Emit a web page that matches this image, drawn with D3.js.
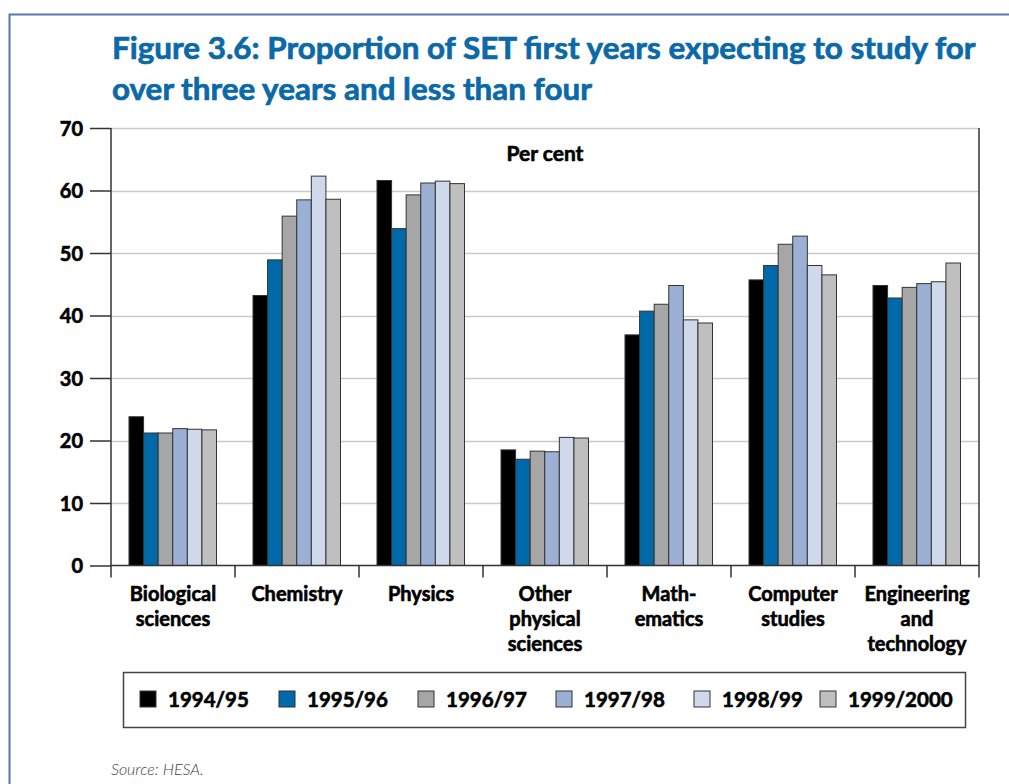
<!DOCTYPE html>
<meta charset="utf-8">
<style>
body, html {
  margin: 0;
  padding: 0;
  background: #fff;
}
text {
  font-family: Lato, "Open Sans", sans-serif;
  font-weight: bold;
  stroke: #000;
  stroke-width: 0.6px;
}
.title {
  fill: #0b69a7;
  stroke: #0b69a7;
  stroke-width: 0.7px;
  font-size: 34px;
}
.axis text {
  font-size: 20px;
  fill: #000;
}
.cat {
  font-size: 20px;
  text-anchor: middle;
}
.legend text {
  font-size: 20.5px;
}
.source {
  font-weight: 300;
  font-style: italic;
  font-size: 16px;
  fill: #444;
  stroke: none;
}
</style>
<div id="chart"></div>
<script src="https://d3js.org/d3.v7.min.js"></script>
<script>
// data
const categories = [
  ["Biological", "sciences"],
  ["Chemistry"],
  ["Physics"],
  ["Other", "physical", "sciences"],
  ["Math-", "ematics"],
  ["Computer", "studies"],
  ["Engineering", "and", "technology"]
]
const years = ["1994/95", "1995/96", "1996/97", "1997/98", "1998/99", "1999/2000"]
const v1994 = [23.8, 43.2, 61.6, 18.5, 36.9, 45.7, 44.8]
const v1995 = [21.2, 48.9, 53.9, 17.0, 40.7, 48.0, 42.8]
const v1996 = [21.2, 55.9, 59.3, 18.3, 41.8, 51.4, 44.5]
const v1997 = [21.9, 58.5, 61.2, 18.2, 44.8, 52.7, 45.1]
const v1998 = [21.8, 62.3, 61.5, 20.5, 39.3, 48.0, 45.4]
const v1999 = [21.7, 58.6, 61.1, 20.4, 38.8, 46.5, 48.4]
const yTicks = [0, 10, 20, 30, 40, 50, 60, 70]
const colours = ["#000000", "#0069aa", "#a6a6a6", "#9cb0d6", "#d0d9eb", "#bfbfbf"]

const series = [v1994, v1995, v1996, v1997, v1998, v1999]
const width = 1009, height = 784

let svg = d3.select("#chart").append("svg")
  .attr("width", width)
  .attr("height", height)

// outer frame
svg.append("path")
  .attr("d", "M9.5," + height + "V14.5H" + width)
  .attr("fill", "none")
  .attr("stroke", "#5579aa")
  .attr("stroke-width", 2)

let title = svg.append("text").attr("class", "title")
let line1 = title.append("tspan").attr("x", 112).attr("y", 59)
  .text("Figure 3.6: Proportion of SET first years expecting to study for")
title.append("tspan").attr("x", 112).attr("y", 100)
  .text("over three years and less than four")
// size the title so the first line spans the plot width
let w1 = line1.node().getComputedTextLength()
title.style("font-size", (34 * 864 / w1) + "px")

const plotL = 111, plotR = 979, plotT = 128, plotB = 565.5

let x0 = d3.scaleBand()
  .domain(d3.range(categories.length))
  .range([plotL, plotR])

let x1 = d3.scaleBand()
  .domain(d3.range(years.length))
  .range([18, x0.bandwidth() - 18.5])

let y = d3.scaleLinear()
  .domain([0, 70])
  .range([plotB, plotT])

// gridlines
svg.append("g")
  .selectAll("line")
  .data(yTicks.filter(d => d > 0))
  .enter().append("line")
  .attr("x1", plotL).attr("x2", plotR)
  .attr("y1", d => Math.round(y(d)) + 0.5)
  .attr("y2", d => Math.round(y(d)) + 0.5)
  .attr("stroke", "#c9c9c9")
  .attr("stroke-width", 1.5)

// bars
let groups = svg.append("g")
  .selectAll("g")
  .data(series)
  .enter().append("g")
  .attr("fill", (d, i) => colours[i])

groups.selectAll("rect")
  .data((d, i) => d.map((v, j) => ({ v: v, s: i, c: j })))
  .enter().append("rect")
  .attr("x", d => x0(d.c) + x1(d.s))
  .attr("width", x1.bandwidth())
  .attr("y", d => y(d.v))
  .attr("height", d => y(0) - y(d.v))
  .attr("stroke", "#333")
  .attr("stroke-width", 1)

// right frame of the plot
svg.append("line")
  .attr("x1", plotR).attr("x2", plotR)
  .attr("y1", plotT).attr("y2", plotB + 12)
  .attr("stroke", "#333").attr("stroke-width", 1.5)

// y axis
let yAxis = svg.append("g")
  .attr("class", "axis")
  .attr("transform", "translate(" + plotL + ",0)")
  .call(d3.axisLeft(y).tickValues(yTicks).tickSize(21).tickPadding(7))
yAxis.select(".domain").remove()
yAxis.selectAll("line").attr("stroke", "#333").attr("stroke-width", 1.5)
yAxis.selectAll("text").attr("dy", "0.36em")

svg.append("line")
  .attr("x1", plotL).attr("x2", plotL)
  .attr("y1", plotT).attr("y2", plotB + 12)
  .attr("stroke", "#333").attr("stroke-width", 1.5)

// baseline and category ticks
svg.append("line")
  .attr("x1", plotL).attr("x2", plotR)
  .attr("y1", y(0)).attr("y2", y(0))
  .attr("stroke", "#333").attr("stroke-width", 1.5)

svg.append("g")
  .selectAll("line")
  .data(d3.range(1, categories.length))
  .enter().append("line")
  .attr("x1", d => x0(d)).attr("x2", d => x0(d))
  .attr("y1", y(0)).attr("y2", y(0) + 12)
  .attr("stroke", "#333").attr("stroke-width", 1.5)

// category labels
let cats = svg.append("g")
  .selectAll("text")
  .data(categories)
  .enter().append("text")
  .attr("class", "cat")
  .attr("transform", (d, i) => "translate(" + (x0(i) + x0.bandwidth() / 2) + ",601)")

cats.selectAll("tspan")
  .data(d => d)
  .enter().append("tspan")
  .attr("x", 0)
  .attr("y", (d, i) => i * 25)
  .text(d => d)

svg.append("text")
  .attr("x", 545).attr("y", 161)
  .attr("text-anchor", "middle")
  .style("font-size", "21px")
  .text("Per cent")

// legend
svg.append("rect")
  .attr("x", 123.5).attr("y", 672.5)
  .attr("width", 842).attr("height", 55)
  .attr("fill", "none")
  .attr("stroke", "#444")
  .attr("stroke-width", 1.5)

const legendX = [140, 279, 418, 556, 694, 820]
let legend = svg.append("g")
  .attr("class", "legend")
  .selectAll("g")
  .data(years)
  .enter().append("g")
  .attr("transform", (d, i) => "translate(" + legendX[i] + ",691)")

legend.append("rect")
  .attr("width", 16).attr("height", 16)
  .attr("fill", (d, i) => colours[i])
  .attr("stroke", "#333")
  .attr("stroke-width", 1)

legend.append("text")
  .attr("x", 28)
  .attr("y", 16)
  .text(d => d)

svg.append("text")
  .attr("class", "source")
  .attr("x", 111).attr("y", 775)
  .text("Source: HESA.")
</script>
